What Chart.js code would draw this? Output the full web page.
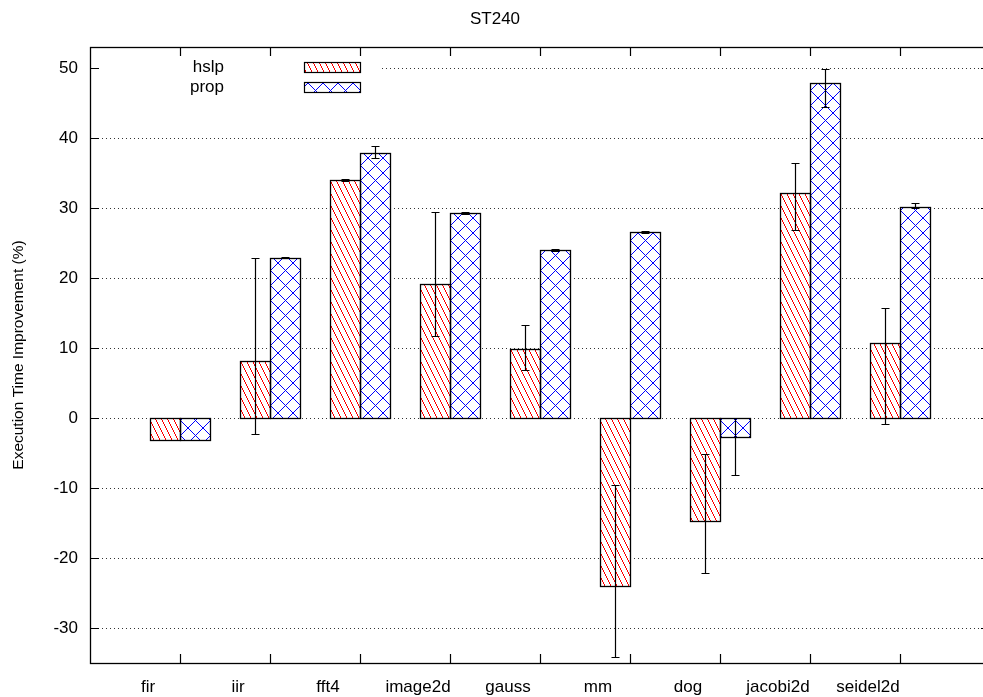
<!DOCTYPE html>
<html><head><meta charset="utf-8">
<script src="https://cdn.jsdelivr.net/npm/chart.js@4.4.0/dist/chart.umd.min.js"></script>
<style>
html,body{margin:0;padding:0;background:#fff;overflow:hidden;width:983px;height:697px}
#wrap{position:absolute;left:0;top:0;width:1080px;height:697px}
</style>
</head><body><div id="wrap"><canvas id="c" width="1080" height="697"></canvas></div>
<script>
const categories = ['fir','iir','fft4','image2d','gauss','mm','dog','jacobi2d','seidel2d'];
const hslpValues = [-3.1, 8.2, 34.0, 19.2, 9.8, -24.0, -14.7, 32.1, 10.7];
const hslpLow    = [-3.1, -2.3, 33.9, 11.7, 6.9, -34.2, -22.1, 26.9, -0.9];
const hslpHigh   = [-3.1, 22.9, 34.1, 29.5, 13.3, -9.6, -5.2, 36.5, 15.7];
const propValues = [-3.1, 22.9, 37.9, 29.3, 24.0, 26.6, -2.7, 47.9, 30.2];
const propLow    = [-3.1, 22.8, 37.1, 29.2, 23.9, 26.5, -8.2, 44.4, 29.95];
const propHigh   = [-3.1, 23.0, 38.9, 29.4, 24.1, 26.7, 0.0, 49.8, 30.65];
const yTicks = [-30, -20, -10, 0, 10, 20, 30, 40, 50];
const seriesNames = ['hslp', 'prop'];
const errorRanges = [[hslpLow, hslpHigh], [propLow, propHigh]];

const FONT = 'Liberation Sans, Arial, sans-serif';
const canvas = document.getElementById('c');

const mod = (n, m) => ((n % m) + m) % m;
// hatch styles: 0 = steep red "\\", 1 = blue crosshatch (pixel-crisp)
function drawHatch(ctx, kind, l, t, r, b) {
  ctx.save();
  ctx.beginPath();
  for (let py = t; py < b; py++) {
    for (let px = l; px < r; px++) {
      let on;
      if (kind === 0) on = mod(px - Math.floor(py / 2), 6) === 0;
      else on = mod(px - py, 15) === 0 || mod(px + py, 15) === 0;
      if (on) ctx.rect(px, py, 1, 1);
    }
  }
  ctx.fillStyle = kind === 0 ? '#ff0000' : '#0000ff';
  ctx.fill();
  ctx.restore();
}

const decor = {
  id: 'gnuplotDecor',
  beforeDatasetsDraw(chart) {
    const { ctx, chartArea: a, scales: { y } } = chart;
    ctx.save();
    ctx.strokeStyle = 'rgba(0,0,0,0.8)';
    ctx.lineWidth = 1;
    ctx.setLineDash([1, 3]);
    yTicks.forEach(v => {
      const py = Math.round(y.getPixelForValue(v)) + 0.5;
      ctx.beginPath(); ctx.moveTo(a.left, py); ctx.lineTo(a.right, py); ctx.stroke();
    });
    ctx.setLineDash([]);
    // opaque key background
    ctx.fillStyle = '#fff';
    ctx.fillRect(a.left + 9, a.top + 5, 281, 46);
    ctx.restore();
  },
  afterDatasetsDraw(chart) {
    const { ctx, chartArea: a, scales: { x, y } } = chart;
    ctx.save();
    // hatch fill + outline of each bar
    chart.data.datasets.forEach((ds, di) => {
      chart.getDatasetMeta(di).data.forEach(bar => {
        const p = bar.getProps(['x', 'y', 'base', 'width'], true);
        const l = Math.round(p.x - p.width / 2), r = Math.round(p.x + p.width / 2);
        const t = Math.round(Math.min(p.y, p.base)), b = Math.round(Math.max(p.y, p.base));
        drawHatch(ctx, di, l + 1, t + 1, r, b);
        ctx.strokeStyle = '#000'; ctx.lineWidth = 1.3;
        ctx.strokeRect(l + 0.5, t + 0.5, r - l, b - t);
      });
    });
    // error bars
    ctx.strokeStyle = '#000'; ctx.lineWidth = 1.2;
    chart.data.datasets.forEach((ds, di) => {
      const meta = chart.getDatasetMeta(di);
      const [lo, hi] = errorRanges[di];
      meta.data.forEach((bar, i) => {
        if (lo[i] === hi[i]) return;
        const px = Math.round(bar.x) + 0.5;
        const yl = Math.round(y.getPixelForValue(lo[i])) + 0.5;
        const yh = Math.round(y.getPixelForValue(hi[i])) + 0.5;
        ctx.beginPath();
        ctx.moveTo(px, yl); ctx.lineTo(px, yh);
        ctx.moveTo(px - 4, yl); ctx.lineTo(px + 4, yl);
        ctx.moveTo(px - 4, yh); ctx.lineTo(px + 4, yh);
        ctx.stroke();
      });
    });
    // border
    ctx.lineWidth = 1.3;
    ctx.strokeRect(a.left + 0.5, a.top + 0.5, a.right - a.left - 1, a.bottom - a.top);
    // inward ticks
    ctx.lineWidth = 1.2;
    ctx.beginPath();
    categories.forEach((c, i) => {
      const px = Math.round(x.getPixelForValue(i)) + 0.5;
      ctx.moveTo(px, a.bottom); ctx.lineTo(px, a.bottom - 9);
      ctx.moveTo(px, a.top); ctx.lineTo(px, a.top + 9);
    });
    yTicks.forEach(v => {
      const py = Math.round(y.getPixelForValue(v)) + 0.5;
      ctx.moveTo(a.left, py); ctx.lineTo(a.left + 9, py);
      ctx.moveTo(a.right, py); ctx.lineTo(a.right - 9, py);
    });
    ctx.stroke();
    // key
    ctx.font = '17px ' + FONT;
    ctx.textAlign = 'right';
    ctx.textBaseline = 'middle';
    seriesNames.forEach((name, k) => {
      const cy = a.top + 20 + k * 20;
      ctx.fillStyle = '#000';
      ctx.fillText(name, a.left + 134, cy);
      const l = a.left + 214, t = cy - 5;
      drawHatch(ctx, k, l + 1, t + 1, l + 56, t + 10);
      ctx.strokeStyle = '#000'; ctx.lineWidth = 1.2;
      ctx.strokeRect(l + 0.5, t + 0.5, 56, 10);
    });
    ctx.restore();
  }
};

new Chart(canvas, {
  type: 'bar',
  data: {
    datasets: [
      { label: seriesNames[0], data: categories.map((c, i) => ({ x: i, y: hslpValues[i] })),
        backgroundColor: '#fff', borderWidth: 0,
        categoryPercentage: 2 / 3, barPercentage: 1 },
      { label: seriesNames[1], data: categories.map((c, i) => ({ x: i, y: propValues[i] })),
        backgroundColor: '#fff', borderWidth: 0,
        categoryPercentage: 2 / 3, barPercentage: 1 }
    ]
  },
  options: {
    responsive: false,
    animation: false,
    layout: { padding: { left: 0, right: 90, top: 0, bottom: 0 } },
    plugins: {
      legend: { display: false },
      tooltip: { enabled: false },
      title: { display: true, text: 'ST240', color: '#000',
        font: { family: FONT, size: 17, weight: 'normal' },
        padding: { top: 9, bottom: 17.6 } }
    },
    scales: {
      x: {
        type: 'linear', min: -1, max: 9, offset: false,
        afterBuildTicks: s => { s.ticks = categories.map((c, i) => ({ value: i })); },
        ticks: { autoSkip: false, maxRotation: 0, minRotation: 0, labelOffset: -32, padding: 14,
          color: '#000', font: { family: FONT, size: 17 },
          callback: v => categories[v] !== undefined ? categories[v] : '' },
        grid: { display: false, drawTicks: false },
        border: { display: false },
        afterFit: s => { s.height = 34; }
      },
      y: {
        min: -35, max: 53,
        afterBuildTicks: s => { s.ticks = yTicks.map(v => ({ value: v })); },
        ticks: { padding: 12, color: '#000', font: { family: FONT, size: 17 } },
        grid: { display: false, drawTicks: false },
        border: { display: false },
        title: { display: true, text: 'Execution Time Improvement (%)', color: '#000',
          font: { family: FONT, size: 15.5 }, padding: { top: 9, bottom: 0 } },
        afterFit: s => { s.width = 90; }
      }
    }
  },
  plugins: [decor]
});
</script>
</body></html>
